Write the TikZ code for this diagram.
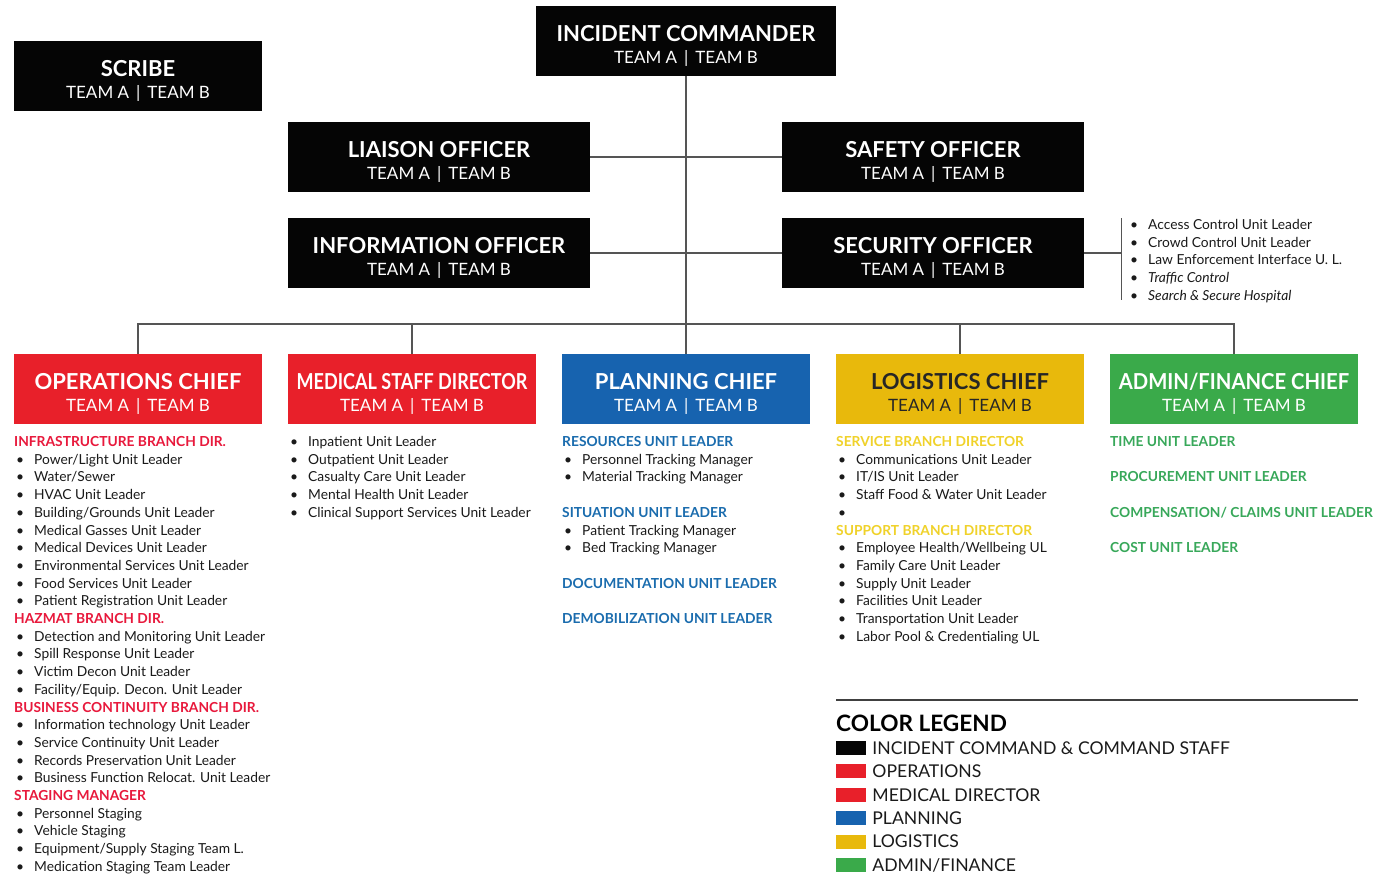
\documentclass[tikz,border=0pt]{standalone}
\usepackage{fontspec}
\setmainfont{Lato}
\usetikzlibrary{positioning}

\definecolor{cmdblack}{HTML}{050505}
\definecolor{opsred}{HTML}{E8202A}
\definecolor{planblue}{HTML}{1763AF}
\definecolor{logyellow}{HTML}{E8B90C}
\definecolor{admgreen}{HTML}{3AAA4A}
\definecolor{opshead}{HTML}{E8193C}
\definecolor{planhead}{HTML}{1A6CAE}
\definecolor{loghead}{HTML}{F0D22A}
\definecolor{admhead}{HTML}{38A85A}
\definecolor{listtext}{HTML}{1A1A1A}
\definecolor{wire}{HTML}{555555}

\tikzstyle{rolebox} = [rectangle, inner sep=0, align=center, minimum height=70,
  text=white, font=\fontsize{17}{22}\selectfont]
\tikzstyle{cmdbox} = [rolebox, fill=cmdblack, minimum width=302]
\tikzstyle{secbox} = [rolebox, minimum width=248]
\tikzstyle{wireline} = [draw=wire, line width=1.3pt]
\tikzstyle{listline} = [anchor=base west, inner sep=0, text=listtext,
  font=\fontsize{13.8}{16}\selectfont]
\tikzstyle{swatch} = [rectangle, inner sep=0, minimum width=30, minimum height=14]
\tikzstyle{legtext} = [inner sep=0, anchor=west, text=listtext,
  font=\fontsize{17.6}{20}\selectfont]

% box title, optionally squeezed sideways
\newcommand{\boxtitle}[2][1]{\rule{0pt}{22pt}{\fontsize{22}{23}\selectfont\bfseries\scalebox{#1}[1]{#2}}}
\newcommand{\teams}{TEAM A\hspace{7pt}\smash{|}\hspace{7pt}TEAM B}
\newcommand{\hd}[1]{\textcolor{headcol}{\bfseries #1}}
\newcommand{\bl}[1]{\makebox[20pt][l]{\hspace{2pt}\textbullet}#1}

\begin{document}
\begin{tikzpicture}[x=1pt, y=-1pt]
  \fill[white] (0,0) rectangle (1380,873);
  \useasboundingbox (0,0) rectangle (1380,873);

  % command staff
  \node[cmdbox, minimum width=300] (ic) at (686,41) {\boxtitle{INCIDENT COMMANDER}\\\teams};
  \node[cmdbox, minimum width=248] (scribe) at (138,76) {\boxtitle{SCRIBE}\\\teams};
  \node[cmdbox] (liaison) at (439,157) {\boxtitle{LIAISON OFFICER}\\\teams};
  \node[cmdbox] (safety) at (933,157) {\boxtitle{SAFETY OFFICER}\\\teams};
  \node[cmdbox] (information) at (439,253) {\boxtitle{INFORMATION OFFICER}\\\teams};
  \node[cmdbox] (security) at (933,253) {\boxtitle{SECURITY OFFICER}\\\teams};

  % general staff
  \node[secbox, fill=opsred] (ops) at (138,389) {\boxtitle{OPERATIONS CHIEF}\\\teams};
  \node[secbox, fill=opsred] (medical) at (412,389) {\boxtitle[0.82]{MEDICAL STAFF DIRECTOR}\\\teams};
  \node[secbox, fill=planblue] (planning) at (686,389) {\boxtitle{PLANNING CHIEF}\\\teams};
  \node[secbox, fill=logyellow, text=black!85] (logistics) at (960,389) {\boxtitle{LOGISTICS CHIEF}\\\teams};
  \node[secbox, fill=admgreen] (admin) at (1234,389) {\boxtitle[0.92]{ADMIN/FINANCE CHIEF}\\\teams};

  % wiring
  \coordinate (bus) at (686,324);
  \coordinate (brtop) at (1121,218);
  \coordinate (brbot) at (1121,300);
  \draw[wireline] (ic.south) -- (planning.north);
  \draw[wireline] (liaison.east) -- (safety.west);
  \draw[wireline] (information.east) -- (security.west);
  \draw[wireline] (ops.north) -- (ops.north |- bus) -- (admin.north |- bus) -- (admin.north);
  \draw[wireline] (medical.north) -- (medical.north |- bus);
  \draw[wireline] (logistics.north) -- (logistics.north |- bus);
  \draw[wireline] (security.east) -- (security.east -| brtop);
  \draw[wireline, line width=1pt] (brtop) -- (brbot);

  % security units
  \foreach \txt [count=\i from 0] in {\bl{Access Control Unit Leader}, \bl{Crowd Control Unit Leader},
      \bl{Law Enforcement Interface U. L.}, \bl{\itshape Traffic Control}, \bl{\itshape Search \& Secure Hospital}}
    \node[listline] (sec\i) at (1128,229.5+\i*17.7) {\txt};

  % operations units
  \colorlet{headcol}{opshead}
  \foreach \txt [count=\i from 0] in {\hd{INFRASTRUCTURE BRANCH DIR.}, \bl{Power/Light Unit Leader},
      \bl{Water/Sewer}, \bl{HVAC Unit Leader}, \bl{Building/Grounds Unit Leader},
      \bl{Medical Gasses Unit Leader}, \bl{Medical Devices Unit Leader},
      \bl{Environmental Services Unit Leader}, \bl{Food Services Unit Leader},
      \bl{Patient Registration Unit Leader}, \hd{HAZMAT BRANCH DIR.},
      \bl{Detection and Monitoring Unit Leader}, \bl{Spill Response Unit Leader},
      \bl{Victim Decon Unit Leader}, \bl{Facility/Equip. Decon. Unit Leader},
      \hd{BUSINESS CONTINUITY BRANCH DIR.}, \bl{Information technology Unit Leader},
      \bl{Service Continuity Unit Leader}, \bl{Records Preservation Unit Leader},
      \bl{Business Function Relocat. Unit Leader}, \hd{STAGING MANAGER},
      \bl{Personnel Staging}, \bl{Vehicle Staging}, \bl{Equipment/Supply Staging Team L.},
      \bl{Medication Staging Team Leader}}
    \node[listline] (ops\i) at (14,446.5+\i*17.7) {\txt};

  % medical units
  \foreach \txt [count=\i from 0] in {\bl{Inpatient Unit Leader}, \bl{Outpatient Unit Leader},
      \bl{Casualty Care Unit Leader}, \bl{Mental Health Unit Leader},
      \bl{Clinical Support Services Unit Leader}}
    \node[listline] (med\i) at (288,446.5+\i*17.7) {\txt};

  % planning units
  \colorlet{headcol}{planhead}
  \foreach \txt [count=\i from 0] in {\hd{RESOURCES UNIT LEADER}, \bl{Personnel Tracking Manager},
      \bl{Material Tracking Manager}, {}, \hd{SITUATION UNIT LEADER}, \bl{Patient Tracking Manager},
      \bl{Bed Tracking Manager}, {}, \hd{DOCUMENTATION UNIT LEADER}, {}, \hd{DEMOBILIZATION UNIT LEADER}}
    \node[listline] (plan\i) at (562,446.5+\i*17.7) {\txt};

  % logistics units
  \colorlet{headcol}{loghead}
  \foreach \txt [count=\i from 0] in {\hd{SERVICE BRANCH DIRECTOR}, \bl{Communications Unit Leader},
      \bl{IT/IS Unit Leader}, \bl{Staff Food \& Water Unit Leader}, \bl{}, \hd{SUPPORT BRANCH DIRECTOR},
      \bl{Employee Health/Wellbeing UL}, \bl{Family Care Unit Leader}, \bl{Supply Unit Leader},
      \bl{Facilities Unit Leader}, \bl{Transportation Unit Leader}, \bl{Labor Pool \& Credentialing UL}}
    \node[listline] (log\i) at (836,446.5+\i*17.7) {\txt};

  % admin/finance units
  \colorlet{headcol}{admhead}
  \foreach \txt [count=\i from 0] in {\hd{TIME UNIT LEADER}, {}, \hd{PROCUREMENT UNIT LEADER}, {},
      \hd{COMPENSATION/ CLAIMS UNIT LEADER}, {}, \hd{COST UNIT LEADER}}
    \node[listline] (adm\i) at (1110,446.5+\i*17.7) {\txt};

  % legend
  \coordinate (rulel) at (836,700);
  \coordinate (ruler) at (1358,700);
  \draw[draw=black!75, line width=1.2pt] (rulel) -- (ruler);
  \node[anchor=base west, inner sep=0, font=\fontsize{22.6}{24}\selectfont\bfseries] (legtitle)
    at (836,731) {COLOR LEGEND};
  \foreach \col/\txt [count=\i from 0] in {cmdblack/{INCIDENT COMMAND \& COMMAND STAFF},
      opsred/OPERATIONS, opsred/{MEDICAL DIRECTOR}, planblue/PLANNING,
      logyellow/LOGISTICS, admgreen/{ADMIN/FINANCE}}
  {
    \node[swatch, fill=\col] (sw\i) at (851,748+\i*23.4) {};
    \node[legtext, right=6pt of sw\i] (lt\i) {\txt};
  }
\end{tikzpicture}
\end{document}
